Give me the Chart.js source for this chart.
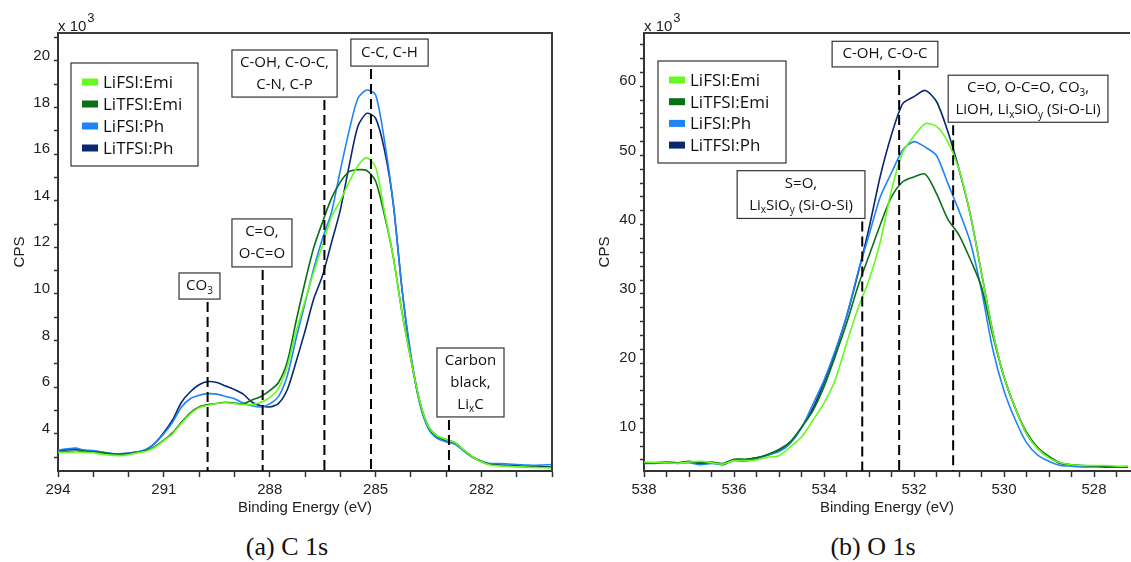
<!DOCTYPE html>
<html>
<head>
<meta charset="utf-8">
<script src="https://cdn.jsdelivr.net/npm/chart.js@4.4.0/dist/chart.umd.min.js"></script>
<style>
body { margin: 0; background: #fff; width: 1131px; height: 562px; overflow: hidden; position: relative; }
.panel { position: absolute; top: 0; height: 520px; }
#panel_c { left: 0; width: 562px; }
#panel_o { left: 583px; width: 548px; }
.caption { position: absolute; top: 532px; font-family: "Liberation Serif", serif; font-size: 26px; line-height: 30px; transform: translateX(-50%); white-space: nowrap; color: #111; }
</style>
</head>
<body>
<div class="panel" id="panel_c"><canvas id="chart_c"></canvas></div>
<div class="panel" id="panel_o"><canvas id="chart_o"></canvas></div>
<div class="caption" style="left:287px">(a) C 1s</div>
<div class="caption" style="left:873px">(b) O 1s</div>
<script>
// series (CPS in thousands)
const series_names = ["LiFSI:Emi", "LiTFSI:Emi", "LiFSI:Ph", "LiTFSI:Ph"]
const series_colors = ["rgb(102,250,30)", "rgb(10,112,22)", "rgb(30,132,250)", "rgb(10,40,112)"]

// C 1s
const c1s_energy = [294, 293.75, 293.5, 293.25, 293, 292.75, 292.5, 292.25, 292, 291.75,
    291.5, 291.25, 291, 290.75, 290.5, 290.25, 290, 289.75, 289.5, 289.25,
    289, 288.75, 288.5, 288.25, 288, 287.75, 287.5, 287.25, 287, 286.75,
    286.5, 286.25, 286, 285.75, 285.5, 285.25, 285, 284.75, 284.5, 284.25,
    284, 283.75, 283.5, 283.25, 283, 282.75, 282.5, 282.25, 282, 281.75,
    281.5, 281.25, 281, 280.75, 280.5, 280.25, 280]
const c1s_lifsi_emi = [3.20, 3.20, 3.22, 3.20, 3.18, 3.12, 3.08, 3.06, 3.10, 3.18,
    3.25, 3.42, 3.70, 4.00, 4.45, 4.85, 5.12, 5.22, 5.30, 5.33,
    5.30, 5.25, 5.25, 5.35, 5.55, 5.95, 6.90, 8.40, 9.70, 10.95,
    12.10, 13.30, 14.00, 14.80, 15.50, 15.85, 15.45, 13.55, 11.60, 9.20,
    7.20, 5.40, 4.30, 3.90, 3.75, 3.62, 3.30, 3.00, 2.80, 2.66,
    2.62, 2.60, 2.58, 2.57, 2.55, 2.54, 2.53]
const c1s_litfsi_emi = [3.22, 3.22, 3.25, 3.25, 3.22, 3.18, 3.14, 3.12, 3.14, 3.20,
    3.28, 3.45, 3.72, 4.05, 4.50, 4.90, 5.15, 5.25, 5.30, 5.35,
    5.32, 5.28, 5.45, 5.60, 5.85, 6.20, 7.10, 8.85, 10.50, 12.00,
    13.10, 14.10, 14.80, 15.25, 15.33, 15.30, 14.85, 13.40, 11.60, 9.20,
    7.20, 5.40, 4.30, 3.90, 3.75, 3.62, 3.30, 3.00, 2.82, 2.68,
    2.64, 2.62, 2.60, 2.58, 2.57, 2.56, 2.56]
const c1s_lifsi_ph = [3.30, 3.35, 3.38, 3.30, 3.28, 3.22, 3.15, 3.14, 3.16, 3.22,
    3.32, 3.60, 4.00, 4.50, 5.15, 5.50, 5.65, 5.72, 5.70, 5.60,
    5.50, 5.32, 5.20, 5.15, 5.28, 5.60, 6.50, 8.10, 9.60, 11.10,
    12.40, 13.50, 15.30, 17.00, 18.40, 18.75, 18.55, 16.60, 13.90, 10.20,
    7.40, 5.30, 4.20, 3.80, 3.65, 3.55, 3.25, 2.98, 2.82, 2.72,
    2.72, 2.70, 2.68, 2.66, 2.64, 2.66, 2.68]
const c1s_litfsi_ph = [3.25, 3.30, 3.32, 3.28, 3.25, 3.20, 3.15, 3.14, 3.16, 3.22,
    3.32, 3.60, 4.05, 4.60, 5.35, 5.80, 6.10, 6.24, 6.20, 6.05,
    5.90, 5.70, 5.35, 5.20, 5.15, 5.30, 5.90, 7.10, 8.40, 9.80,
    10.80, 12.20, 13.60, 15.50, 17.20, 17.75, 17.55, 16.20, 13.90, 10.20,
    7.30, 5.35, 4.25, 3.85, 3.70, 3.60, 3.28, 3.00, 2.80, 2.68,
    2.66, 2.64, 2.62, 2.60, 2.58, 2.58, 2.58]
const c1s_x_ticks = [294, 293, 292, 291, 290, 289, 288, 287, 286, 285, 284, 283, 282, 281, 280]
const c1s_y_ticks = [3, 4, 5, 6, 7, 8, 9, 10, 11, 12, 13, 14, 15, 16, 17, 18, 19, 20, 21]

// O 1s
const o1s_energy = [538, 537.75, 537.5, 537.25, 537, 536.75, 536.5, 536.25, 536, 535.75,
    535.5, 535.25, 535, 534.75, 534.5, 534.25, 534, 533.75, 533.5, 533.25,
    533, 532.75, 532.5, 532.25, 532, 531.75, 531.5, 531.25, 531, 530.75,
    530.5, 530.25, 530, 529.75, 529.5, 529.25, 529, 528.75, 528.5, 528.25,
    528, 527.75, 527.5, 527.25]
const o1s_lifsi_emi = [5.7, 5.65, 5.6, 5.5, 5.7, 5.8, 5.6, 5.4, 5.9, 5.9,
    6.0, 6.4, 6.6, 7.9, 9.3, 11.7, 14.2, 17.6, 22.8, 27.8,
    32.0, 37.5, 45.0, 50.5, 52.8, 54.6, 54.2, 52.0, 48.0, 41.5,
    33.0, 24.5, 18.0, 13.5, 9.8, 7.6, 6.3, 5.6, 5.3, 5.2,
    5.2, 5.2, 5.1, 5.1]
const o1s_litfsi_emi = [5.6, 5.6, 5.7, 5.6, 5.8, 5.6, 5.7, 5.5, 6.1, 6.1,
    6.3, 6.8, 7.5, 8.6, 10.7, 13.1, 16.6, 21.0, 25.7, 31.0,
    35.5, 40.0, 44.0, 46.2, 46.9, 47.3, 44.5, 40.8, 38.5, 35.0,
    31.0, 24.0, 18.0, 13.5, 10.0, 7.8, 6.5, 5.6, 5.3, 5.2,
    5.1, 5.0, 5.0, 5.0]
const o1s_lifsi_ph = [5.5, 5.5, 5.6, 5.5, 5.6, 5.3, 5.5, 5.4, 5.9, 5.8,
    6.2, 6.7, 7.2, 8.4, 10.6, 14.0, 17.5, 21.8, 26.7, 33.0,
    38.5, 44.0, 47.5, 50.8, 52.0, 51.2, 50.0, 46.0, 42.0, 37.5,
    30.5, 22.0, 16.0, 11.8, 8.5, 6.7, 5.8, 5.2, 5.1, 5.0,
    5.0, 5.1, 5.0, 5.0]
const o1s_litfsi_ph = [5.6, 5.55, 5.6, 5.55, 5.7, 5.4, 5.6, 5.3, 6.0, 6.0,
    6.3, 6.7, 7.4, 8.5, 10.7, 13.4, 17.2, 21.6, 26.7, 32.8,
    39.5, 47.0, 53.0, 57.5, 58.5, 59.4, 57.8, 53.5, 48.0, 41.5,
    33.0, 24.5, 18.0, 13.5, 9.8, 7.7, 6.4, 5.5, 5.3, 5.1,
    5.1, 5.0, 5.0, 5.0]
const o1s_x_ticks = [538, 537.5, 537, 536.5, 536, 535.5, 535, 534.5, 534, 533.5,
    533, 532.5, 532, 531.5, 531, 530.5, 530, 529.5, 529, 528.5, 528, 527.5]
const o1s_y_ticks = [6, 8, 10, 12, 14, 16, 18, 20, 22, 24, 26, 28, 30, 32, 34, 36,
    38, 40, 42, 44, 46, 48, 50, 52, 54, 56, 58, 60, 62, 64, 66]

// peak assignments: line energy, box corners [x_from, x_to, y_top, y_bottom] in data units
const c1s_notes = [
    { at: 289.76, lines: ["CO_{3}"], box: [290.57, 289.41, 10.90, 9.78] },
    { at: 288.20, lines: ["C=O,", "O-C=O"], box: [289.07, 287.37, 13.22, 11.16] },
    { at: 286.45, lines: ["C-OH, C-O-C,", "C-N, C-P"], box: [289.07, 286.09, 20.47, 18.45] },
    { at: 285.13, lines: ["C-C, C-H"], box: [285.70, 283.51, 20.94, 19.78] },
    { at: 282.92, lines: ["Carbon", "black,", "Li_{x}C"], box: [283.26, 281.36, 7.68, 4.72] }
]
const o1s_notes = [
    { at: 533.15, lines: ["S=O,", "Li_{x}SiO_{y} (Si-O-Si)"], box: [535.93, 533.09, 47.8, 40.9] },
    { at: 532.33, lines: ["C-OH, C-O-C"], box: [533.82, 531.47, 66.5, 62.8] },
    { at: 531.13, lines: ["C=O, O-C=O, CO_{3},", "LiOH, Li_{x}SiO_{y} (Si-O-Li)"], box: [531.24, 527.69, 61.6, 54.8] }
]

const axis_font = { family: "'Liberation Sans', Arial, sans-serif", size: 15 }
const note_font = "'Open Sans', sans-serif"
const ink = "#222"

function richParts(line) {
    let parts = []
    let re = /_\{([^}]*)\}/g
    let last = 0
    let m
    while ((m = re.exec(line)) !== null) {
        if (m.index > last) parts.push({ t: line.slice(last, m.index), sub: false })
        parts.push({ t: m[1], sub: true })
        last = re.lastIndex
    }
    if (last < line.length) parts.push({ t: line.slice(last), sub: false })
    return parts
}

function drawRich(ctx, line, cx, cy) {
    let parts = richParts(line)
    let width = 0
    parts.forEach(p => {
        ctx.font = (p.sub ? "10px " : "15px ") + note_font
        p.w = ctx.measureText(p.t).width
        width += p.w
    })
    let x = cx - width / 2
    ctx.textBaseline = "middle"
    ctx.textAlign = "left"
    parts.forEach(p => {
        ctx.font = (p.sub ? "10px " : "15px ") + note_font
        ctx.fillText(p.t, x, p.sub ? cy + 5 : cy)
        x += p.w
    })
}

function makeChart(canvas_id, cfg) {
    let datasets = cfg.series.map((values, i) => ({
        label: series_names[i],
        data: cfg.energy.map((e, j) => ({ x: e, y: values[j] })),
        borderColor: series_colors[i],
        backgroundColor: series_colors[i],
        borderWidth: 1.6,
        pointRadius: 0,
        tension: 0.25,
        fill: false
    }))

    let extras = {
        id: "extras_" + canvas_id,
        afterDatasetsDraw(chart) {
            let ctx = chart.ctx
            let area = chart.chartArea
            let xs = chart.scales.x
            let ys = chart.scales.y
            ctx.save()

            // frame top / right
            ctx.strokeStyle = "#3a3a3a"
            ctx.lineWidth = 2
            ctx.beginPath()
            ctx.moveTo(area.left, area.top)
            ctx.lineTo(area.right, area.top)
            if (cfg.right_border) ctx.lineTo(area.right, area.bottom)
            ctx.stroke()

            // assignments
            cfg.notes.forEach(n => {
                let bx0 = xs.getPixelForValue(n.box[0])
                let bx1 = xs.getPixelForValue(n.box[1])
                let by0 = ys.getPixelForValue(n.box[2])
                let by1 = ys.getPixelForValue(n.box[3])
                let lx = xs.getPixelForValue(n.at)

                ctx.setLineDash([10, 5])
                ctx.strokeStyle = "#000"
                ctx.lineWidth = 2
                ctx.beginPath()
                ctx.moveTo(lx, by1 + 3)
                ctx.lineTo(lx, area.bottom)
                ctx.stroke()
                ctx.setLineDash([])

                ctx.fillStyle = "#fff"
                ctx.fillRect(bx0, by0, bx1 - bx0, by1 - by0)
                ctx.strokeStyle = "#333"
                ctx.lineWidth = 1.2
                ctx.strokeRect(bx0, by0, bx1 - bx0, by1 - by0)

                ctx.fillStyle = "#111"
                let mid = (by0 + by1) / 2
                let step = 22
                n.lines.forEach((line, k) => {
                    let cy = mid + (k - (n.lines.length - 1) / 2) * step
                    drawRich(ctx, line, (bx0 + bx1) / 2, cy)
                })
            })

            // legend box
            let lg = cfg.legend
            let x0 = area.left + lg.dx
            let y0 = area.top + lg.dy
            ctx.fillStyle = "#fff"
            ctx.fillRect(x0, y0, lg.w, lg.h)
            ctx.strokeStyle = "#333"
            ctx.lineWidth = 1.2
            ctx.strokeRect(x0, y0, lg.w, lg.h)
            chart.data.datasets.forEach((ds, i) => {
                let cy = y0 + lg.first + i * lg.step
                ctx.fillStyle = ds.borderColor
                ctx.fillRect(x0 + 11, cy - 3.5, 16, 7)
                ctx.fillStyle = "#111"
                ctx.font = "17px " + note_font
                ctx.textBaseline = "middle"
                ctx.textAlign = "left"
                ctx.fillText(ds.label, x0 + 32, cy + 1)
            })

            // multiplier
            ctx.fillStyle = ink
            ctx.textBaseline = "alphabetic"
            ctx.font = "15px 'Liberation Sans', Arial, sans-serif"
            ctx.fillText("x 10", area.left, area.top - 2)
            let w = ctx.measureText("x 10").width
            ctx.font = "13px 'Liberation Sans', Arial, sans-serif"
            ctx.fillText("3", area.left + w + 1, area.top - 11)
            ctx.restore()
        }
    }

    return new Chart(document.getElementById(canvas_id).getContext("2d"), {
        type: "line",
        data: { datasets: datasets },
        plugins: [extras],
        options: {
            responsive: true,
            maintainAspectRatio: false,
            animation: false,
            devicePixelRatio: 1,
            layout: { autoPadding: false, padding: { top: 33, right: cfg.pad_right, left: 0, bottom: 0 } },
            plugins: { legend: { display: false }, tooltip: { enabled: false } },
            scales: {
                x: {
                    type: "linear",
                    reverse: true,
                    min: cfg.x_min,
                    max: cfg.x_max,
                    afterFit: s => { s.height = 49 },
                    afterBuildTicks: s => { s.ticks = cfg.x_ticks.map(v => ({ value: v })) },
                    ticks: {
                        autoSkip: false, maxRotation: 0, padding: 4,
                        font: axis_font, color: ink,
                        callback: cfg.x_label
                    },
                    grid: { drawOnChartArea: false, tickLength: 6, tickColor: "#333", tickWidth: 1.5 },
                    border: { color: "#333", width: 2 },
                    title: { display: true, text: "Binding Energy (eV)", font: axis_font, color: ink, padding: { top: 0, bottom: 3 } }
                },
                y: {
                    min: cfg.y_min,
                    max: cfg.y_max,
                    afterFit: s => { s.width = cfg.y_width },
                    afterBuildTicks: s => { s.ticks = cfg.y_ticks.map(v => ({ value: v })) },
                    ticks: {
                        autoSkip: false, padding: 4, labelOffset: -5,
                        font: axis_font, color: ink,
                        callback: cfg.y_label
                    },
                    grid: { drawOnChartArea: false, tickLength: 4, tickColor: "#333", tickWidth: 1.5 },
                    border: { color: "#333", width: 2 },
                    title: { display: true, text: "CPS", font: axis_font, color: ink, padding: { top: cfg.title_pad, bottom: 0 } }
                }
            }
        }
    })
}

makeChart("chart_c", {
    energy: c1s_energy,
    series: [c1s_lifsi_emi, c1s_litfsi_emi, c1s_lifsi_ph, c1s_litfsi_ph],
    x_min: 280, x_max: 294, y_min: 2.4, y_max: 21.2,
    x_ticks: c1s_x_ticks, y_ticks: c1s_y_ticks,
    x_label: v => ((294 - v) % 3 === 0 ? v : ""),
    y_label: v => (v % 2 === 0 ? v : ""),
    y_width: 58, pad_right: 10, title_pad: 11, right_border: true,
    notes: c1s_notes,
    legend: { dx: 13, dy: 30, w: 127, h: 103, first: 19, step: 22 }
})

makeChart("chart_o", {
    energy: o1s_energy,
    series: [o1s_lifsi_emi, o1s_litfsi_emi, o1s_lifsi_ph, o1s_litfsi_ph],
    x_min: 527.2, x_max: 538, y_min: 4.4, y_max: 67.7,
    x_ticks: o1s_x_ticks, y_ticks: o1s_y_ticks,
    x_label: v => (v % 2 === 0 ? v : ""),
    y_label: v => (v % 10 === 0 ? v : ""),
    y_width: 61, pad_right: 1, title_pad: 13, right_border: false,
    notes: o1s_notes,
    legend: { dx: 14, dy: 28, w: 128, h: 102, first: 19, step: 21.7 }
})
</script>
</body>
</html>
